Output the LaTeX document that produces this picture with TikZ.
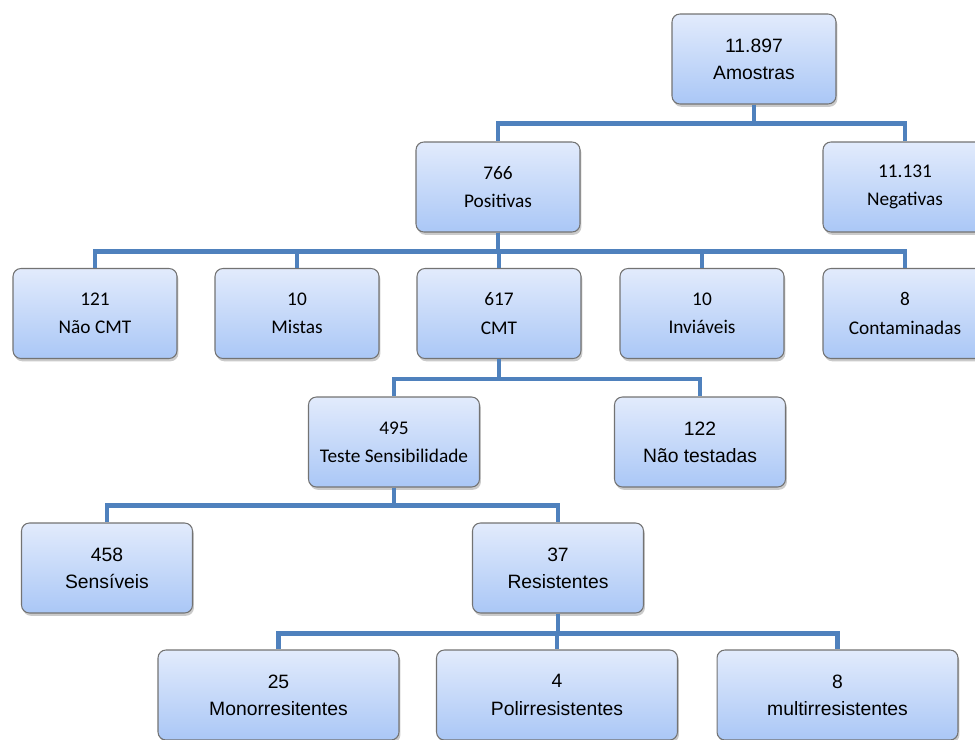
\documentclass[tikz,border=0pt]{standalone}
\usepackage{fontspec}
\setmainfont{Carlito}
\newfontfamily\arialfont{Liberation Sans}
\usetikzlibrary{shadows}
\definecolor{linkblue}{RGB}{79,129,189}
\definecolor{boxtop}{RGB}{226,235,252}
\definecolor{boxbot}{RGB}{170,199,246}

\begin{document}
\begin{tikzpicture}[x=0.02cm, y=-0.02cm,
                    box/.style={draw=black!55, line width=0.6pt, rounded corners=4.5pt,
                                top color=boxtop, bottom color=boxbot,
                                minimum width=3.28cm, minimum height=1.8cm, align=center,
                                font=\fontsize{11}{16}\selectfont,
                                drop shadow={shadow xshift=0.8pt, shadow yshift=-1.6pt, opacity=0.35, fill=black!60}},
                    arial/.style={font=\arialfont\fontsize{11}{15.5}\selectfont},
                    mid/.style={minimum width=3.42cm},
                    wide/.style={minimum width=4.82cm},
                    link/.style={draw=linkblue, line width=2.8pt}]
                \useasboundingbox (0,0) rectangle (975,740);

                \node[box, arial] (amostras) at (754,59) {11.897\\Amostras};
                \node[box] (positivas) at (498,187) {766\\Positivas};
                \node[box] (negativas) at (905,187) {11.131\\Negativas};

                \node[box] (naocmt) at (95,313.5) {121\\Não CMT};
                \node[box] (mistas) at (297,313.5) {10\\Mistas};
                \node[box] (cmt) at (499,313.5) {617\\CMT};
                \node[box] (inviaveis) at (702,313.5) {10\\Inviáveis};
                \node[box] (contaminadas) at (905,313.5) {8\\Contaminadas};

                \node[box, mid] (teste) at (394,442) {495\\Teste Sensibilidade};
                \node[box, mid, arial] (naotestadas) at (700,442) {122\\Não testadas};

                \node[box, mid, arial] (sensiveis) at (107,568) {458\\Sensíveis};
                \node[box, mid, arial] (resistentes) at (558,568) {37\\Resistentes};

                \node[box, wide, arial] (mono) at (278.5,695) {25\\Monorresitentes};
                \node[box, wide, arial] (poli) at (557,695) {4\\Polirresistentes};
                \node[box, wide, arial] (multi) at (837.5,695) {8\\multirresistentes};

                % ligacoes
                \foreach \c in {positivas, negativas}
                    \draw[link] (amostras.south) -- ++(0,19) -| (\c.north);
                \foreach \c in {naocmt, mistas, cmt, inviaveis, contaminadas}
                    \draw[link] (positivas.south) -- ++(0,19) -| (\c.north);
                \foreach \c in {teste, naotestadas}
                    \draw[link] (cmt.south) -- ++(0,20) -| (\c.north);
                \foreach \c in {sensiveis, resistentes}
                    \draw[link] (teste.south) -- ++(0,18) -| (\c.north);
                \foreach \c in {mono, poli, multi}
                    \draw[link] (resistentes.south) -- ++(0,20) -| (\c.north);
            \end{tikzpicture}
\end{document}
